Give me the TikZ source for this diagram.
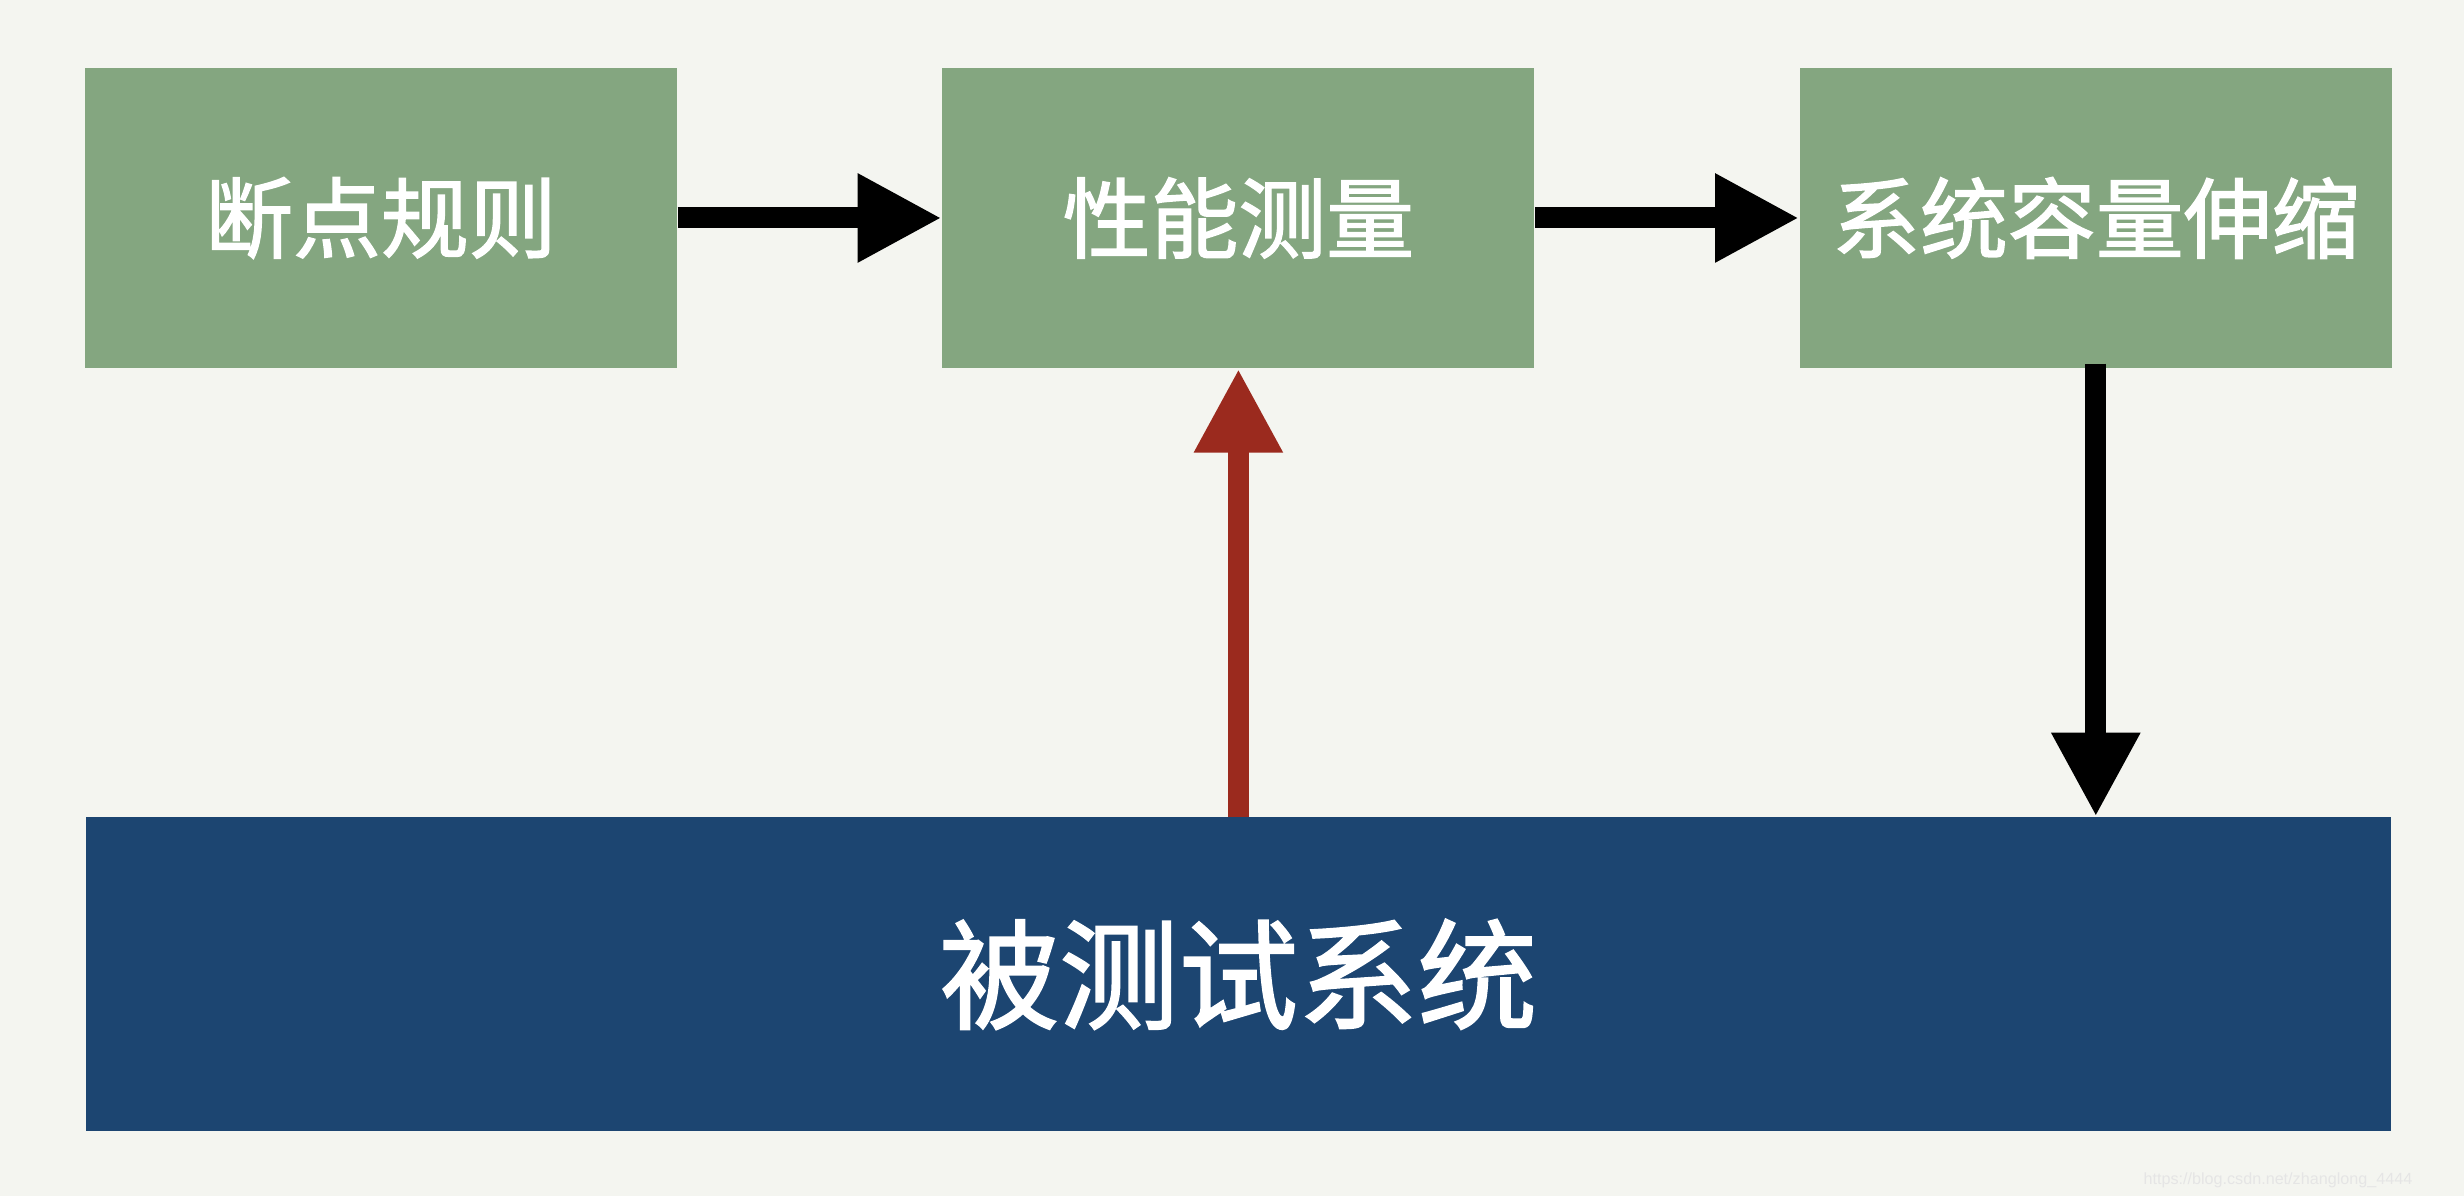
\documentclass[tikz,border=0pt]{standalone}
\usepackage{fontspec}
\newfontfamily\cjk[BoldFont={Noto Sans CJK SC}, BoldFeatures={FakeBold=1.6}]{Noto Sans CJK SC}
\setsansfont{Liberation Sans}
\usetikzlibrary{
    positioning,      % 用于相对定位
    arrows.meta       % 用于箭头样式
}
\definecolor{bgcolor}{HTML}{F4F5F0}
\definecolor{boxgreen}{HTML}{84A680}
\definecolor{boxnavy}{HTML}{1C4571}
\definecolor{arrowred}{HTML}{9B2A1E}

\begin{document}
\begin{tikzpicture}[
        box/.style={
            rectangle,
            draw=none,
            minimum width=5.92cm,
            minimum height=3cm,
            align=center,
            text=white,
            fill=#1,
            font=\cjk\bfseries\fontsize{25}{30}\selectfont
        },
        box/.default=boxgreen,
        arrow/.style={
            -{Triangle[length=8.4mm, width=8.3mm]},
            line width=2.1mm,
            draw=#1
        },
        arrow/.default=black
    ]
    % 背景
    \fill[bgcolor] (0,0) rectangle (24.64,11.96);
    \useasboundingbox (0,0) rectangle (24.64,11.96);

    % 第一行：三个步骤
    \node[box] (rule) at (3.81,9.78) {断点规则};
    \node[box, right=2.64cm of rule] (measure) {性能测量};
    \node[box, right=2.64cm of measure] (scale) {系统容量伸缩};

    % 第二行：被测试系统
    \node[box=boxnavy, below=4.48cm of measure, minimum width=23.05cm, minimum height=3.14cm,
        font=\cjk\bfseries\fontsize{34}{40}\selectfont] (system) {被测试系统};

    % 箭头连接
    \draw[arrow] (rule) -- (measure);
    \draw[arrow] (measure) -- (scale);
    \draw[arrow] ([yshift=0.05cm]scale.south) -- (scale.south |- system.north);
    \draw[arrow=arrowred] (system.north -| measure.south) -- (measure.south);

    % 水印
    \node[anchor=south east, text=black!10, font=\sffamily\fontsize{4.6}{5}\selectfont, inner sep=0pt] (mark) at (24.13,0.07) {https://blog.csdn.net/zhanglong\_4444};
\end{tikzpicture}
\end{document}
